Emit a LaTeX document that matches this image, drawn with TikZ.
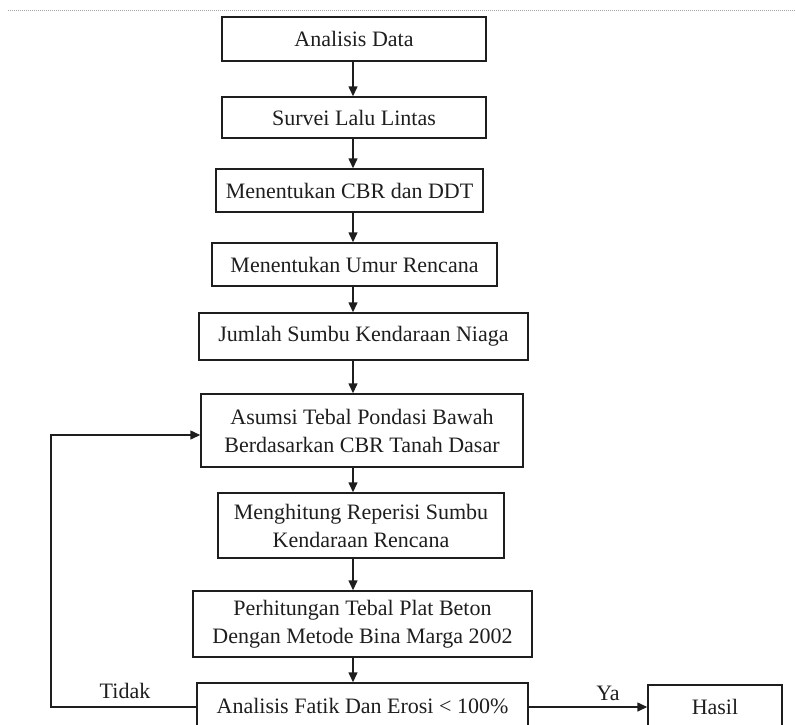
\documentclass[tikz,border=0pt]{standalone}
\usepackage{fontspec}
\setmainfont{Liberation Serif}
\usetikzlibrary{arrows.meta}
\definecolor{ink}{HTML}{1E1E1E}
\tikzset{
  box/.style={draw=ink, line width=1.5pt, inner sep=0pt, align=center,
    text=ink, font=\fontsize{22pt}{28pt}\selectfont},
  arr/.style={draw=ink, line width=1.5pt, -{Triangle[length=10pt,width=9pt]}},
  line/.style={draw=ink, line width=1.5pt},
  lbl/.style={text=ink, font=\fontsize{22pt}{28pt}\selectfont, inner sep=0pt}
}
\begin{document}
\begin{tikzpicture}[x=1pt,y=-1pt]
\useasboundingbox (0,0) rectangle (795,724);
\clip (0,0) rectangle (795,724);
\draw[gray!70, line width=0.8pt, dash pattern=on 0.8pt off 1.2pt] (8,10) -- (795,10);

\node[box, minimum width=264pt, minimum height=44pt] (b1) at (354,39) {Analisis Data};
\node[box, minimum width=264pt, minimum height=41pt] (b2) at (354,117.5) {Survei Lalu Lintas};
\node[box, minimum width=267pt, minimum height=43pt] (b3) at (349.5,190.5) {Menentukan CBR dan DDT};
\node[box, minimum width=285pt, minimum height=43pt] (b4) at (354.5,264.5) {Menentukan Umur Rencana};
\node[box, minimum width=329pt, minimum height=47pt] (b5) at (363.5,336.5) {Jumlah Sumbu Kendaraan Niaga};
\node[box, minimum width=322pt, minimum height=73pt] (b6) at (362,430.5) {Asumsi Tebal Pondasi Bawah\\Berdasarkan CBR Tanah Dasar};
\node[box, minimum width=286pt, minimum height=65pt] (b7) at (361,525.5) {Menghitung Reperisi Sumbu\\Kendaraan Rencana};
\node[box, minimum width=339pt, minimum height=66pt] (b8) at (362.5,624) {Perhitungan Tebal Plat Beton\\Dengan Metode Bina Marga 2002};
\node[box, minimum width=331pt, minimum height=46pt] (b9) at (362.5,706) {Analisis Fatik Dan Erosi < 100\%};
\node[box, minimum width=134pt, minimum height=44pt] (hasil) at (715,707) {Hasil};

\coordinate (ax) at (353,0);
\draw[arr] (b1.south -| ax) -- (b2.north -| ax);
\draw[arr] (b2.south -| ax) -- (b3.north -| ax);
\draw[arr] (b3.south -| ax) -- (b4.north -| ax);
\draw[arr] (b4.south -| ax) -- (b5.north -| ax);
\draw[arr] (b5.south -| ax) -- (b6.north -| ax);
\draw[arr] (b6.south -| ax) -- (b7.north -| ax);
\draw[arr] (b7.south -| ax) -- (b8.north -| ax);
\draw[arr] (b8.south -| ax) -- (b9.north -| ax);

\coordinate (fy) at (0,707);
\coordinate (fx) at (51,0);
\coordinate (fin) at (0,435);
\draw[arr] (b9.west |- fy) -- (fx |- fy) -- (fx |- fin) -- (b6.west |- fin);
\draw[arr] (b9.east |- fy) -- (hasil.west |- fy);

\node[lbl] (tidak) at (125,691) {Tidak};
\node[lbl] (ya) at (608,693) {Ya};
\end{tikzpicture}
\end{document}
